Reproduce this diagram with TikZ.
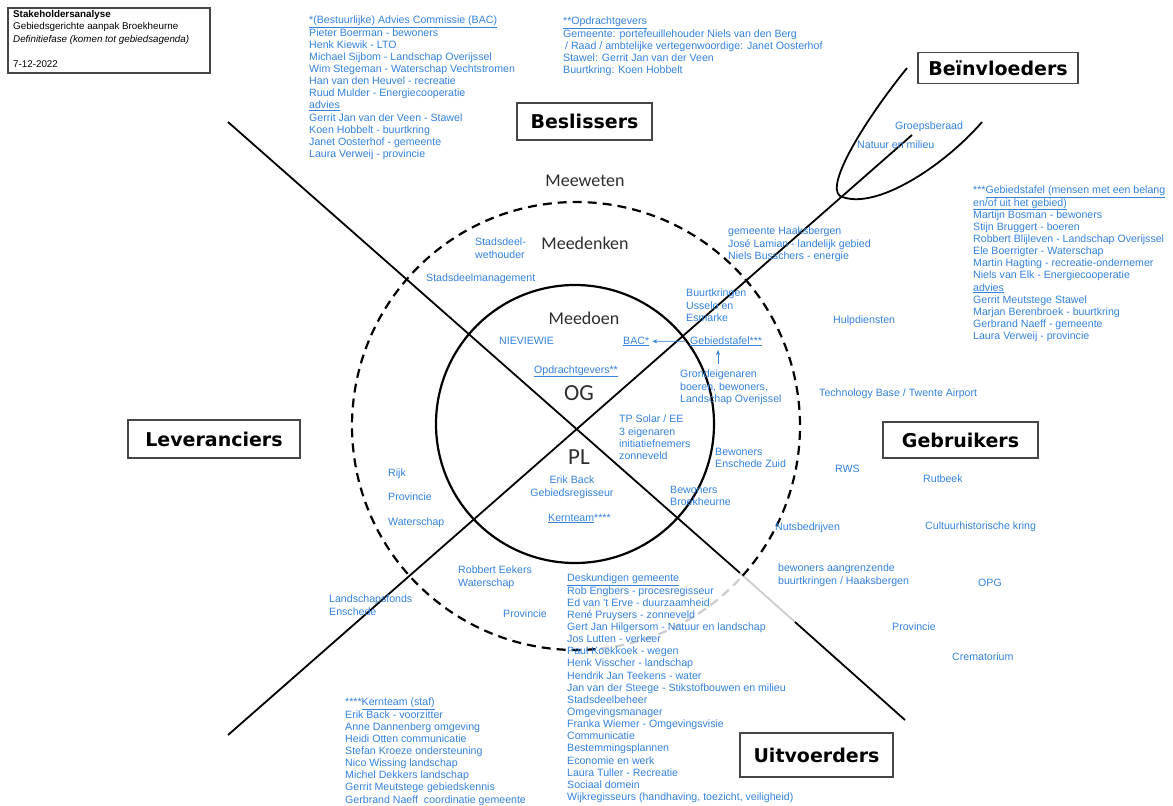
\documentclass[tikz,border=0pt]{standalone}
\usepackage{fontspec}
\setmainfont{Liberation Sans}
\newfontfamily\calib{Carlito}
\newfontfamily\boxfont{DejaVu Sans}
\usetikzlibrary{arrows.meta}
\definecolor{lblue}{RGB}{52,130,220}
\definecolor{hdrgrey}{RGB}{45,45,45}
\definecolor{boxgrey}{RGB}{70,70,70}
\definecolor{fadegrey}{RGB}{205,205,205}
\begin{document}
\begin{tikzpicture}[x=1pt,y=1pt,
  bl/.style={text=lblue, font=\fontsize{10.6}{12.15}\selectfont, inner sep=0pt, align=left},
  hdr/.style={text=hdrgrey, font=\calib\fontsize{18}{20}\selectfont, inner sep=0pt},
  bigl/.style={text=hdrgrey, font=\calib\fontsize{23}{26}\selectfont, inner sep=0pt},
  catbox/.style={draw=boxgrey, line width=1.5pt, font=\boxfont\bfseries\fontsize{19}{22}\selectfont, inner sep=0pt, text=black},
  axisline/.style={line width=1.8pt, black},
  ring/.style={line width=2.2pt, black},
  dring/.style={line width=2.2pt, dash pattern=on 9pt off 6pt},
  arr/.style={-{Stealth[length=5pt,width=4pt]}, lblue, line width=0.8pt}
]
\fill[white] (0,0) rectangle (1173,-806);
\useasboundingbox (0,0) rectangle (1173,-806);

% axes
\coordinate (a1) at (228,-122);
\coordinate (a2) at (740,-573);
\coordinate (a3) at (795,-622);
\coordinate (a4) at (905,-720);
\draw[axisline] (a1) -- (a2);
\draw[axisline, fadegrey] (a2) -- (a3);
\draw[axisline] (a3) -- (a4);
\coordinate (b1) at (228,-735);
\coordinate (b2) at (912,-135);
\draw[axisline] (b1) -- (b2);

% circles
\draw[ring] (575,-424) circle[radius=139pt];
\draw[dring, black] (576,-426) ++(-41.9:224pt) arc[start angle=-41.9, end angle=276.2, radius=224pt];
\draw[dring, fadegrey] (576,-426) ++(-83.8:224pt) arc[start angle=-83.8, end angle=-41.9, radius=224pt];

% influence curve
\draw[line width=1.8pt] (907,-68) .. controls (865,-120) and (825,-185) .. (840,-196)
   .. controls (875,-212) and (945,-165) .. (982,-122);

% category boxes
\node[catbox, minimum width=135pt, minimum height=37pt] (besl) at (584.5,-121.5) {Beslissers};
\node[catbox, minimum width=160pt, minimum height=31pt] (bein) at (998,-68) {Beïnvloeders};
\node[catbox, minimum width=172pt, minimum height=38pt] (lev) at (214,-439) {Leveranciers};
\node[catbox, minimum width=155pt, minimum height=36pt] (gebr) at (960.5,-440) {Gebruikers};
\node[catbox, minimum width=153pt, minimum height=44pt] (uitv) at (816.5,-755) {Uitvoerders};

% info box
\node[draw=boxgrey, line width=1.3pt, minimum width=202pt, minimum height=65pt, inner sep=0pt] (info) at (109,-40.5) {};
\node[anchor=north west, inner sep=0pt, align=left, font=\fontsize{9.8}{12.5}\selectfont] (infotxt) at (13,-10)
  {\textbf{Stakeholdersanalyse}\\Gebiedsgerichte aanpak Broekheurne\\\textit{Definitiefase (komen tot gebiedsagenda)}\\[12.5pt]7-12-2022};

% ring headers
\node[hdr] (meew) at (585,-181) {Meeweten};
\node[hdr] (meed) at (585,-243) {Meedenken};
\node[hdr] (meedo) at (584,-318) {Meedoen};
\node[bigl] (og) at (579,-393) {OG};
\node[bigl] (pl) at (579,-457) {PL};

% lists
\node[bl, anchor=north west] (bac) at (309,-16) {\underline{*(Bestuurlijke) Advies Commissie (BAC)}\\Pieter Boerman - bewoners\\Henk Kiewik - LTO\\Michael Sijbom - Landschap Overijssel\\Wim Stegeman - Waterschap Vechtstromen\\Han van den Heuvel - recreatie\\Ruud Mulder - Energiecooperatie\\\underline{advies}\\Gerrit Jan van der Veen - Stawel\\Koen Hobbelt - buurtkring\\Janet Oosterhof - gemeente\\Laura Verweij - provincie};

\node[bl, anchor=north west] (opdr) at (563,-17) {\underline{**Opdrachtgevers}\\Gemeente: portefeuillehouder Niels van den Berg\\\hspace*{2pt}/ Raad / ambtelijke vertegenwoordige: Janet Oosterhof\\Stawel: Gerrit Jan van der Veen\\Buurtkring: Koen Hobbelt};

\node[bl, anchor=north west] (gtl) at (973,-186) {***\underline{Gebiedstafel (mensen met een belang}\\\underline{en/of uit het gebied)}\\Martijn Bosman - bewoners\\Stijn Bruggert - boeren\\Robbert Blijleven - Landschap Overijssel\\Ele Boerrigter - Waterschap\\Martin Hagting - recreatie-ondernemer\\Niels van Elk - Energiecooperatie\\\underline{advies}\\Gerrit Meutstege Stawel\\Marjan Berenbroek - buurtkring\\Gerbrand Naeff - gemeente\\Laura Verweij - provincie};

\node[bl, anchor=north west] (desk) at (567,-574) {\underline{Deskundigen gemeente}\\Rob Engbers - procesregisseur\\Ed van 't Erve - duurzaamheid\\René Pruysers - zonneveld\\Gert Jan Hilgersom - Natuur en landschap\\Jos Lutten - verkeer\\Paul Koekkoek - wegen\\Henk Visscher - landschap\\Hendrik Jan Teekens - water\\Jan van der Steege - Stikstofbouwen en milieu\\Stadsdeelbeheer\\Omgevingsmanager\\Franka Wiemer - Omgevingsvisie\\Communicatie\\Bestemmingsplannen\\Economie en werk\\Laura Tuller - Recreatie\\Sociaal domein\\Wijkregisseurs (handhaving, toezicht, veiligheid)};

\node[bl, anchor=north west] (kern) at (345,-698) {****\underline{Kernteam (staf)}\\Erik Back - voorzitter\\Anne Dannenberg omgeving\\Heidi Otten communicatie\\Stefan Kroeze ondersteuning\\Nico Wissing landschap\\Michel Dekkers landschap\\Gerrit Meutstege gebiedskennis\\Gerbrand Naeff\ \ coordinatie gemeente};

% scattered labels
\node[bl, anchor=north west] (sdw) at (475,-238) {Stadsdeel-\\wethouder};
\node[bl, anchor=base west] (sdm) at (426,-281) {Stadsdeelmanagement};
\node[bl, anchor=base west] (niev) at (499,-344) {NIEVIEWIE};
\node[bl, anchor=base west] (bacs) at (623,-344) {\underline{BAC*}};
\node[bl, anchor=base west] (gebt) at (690,-344) {\underline{Gebiedstafel***}};
\node[bl, anchor=base west] (opds) at (534,-373) {\underline{Opdrachtgevers**}};
\node[bl, anchor=north west] (grond) at (680,-370) {Grondeigenaren\\boeren, bewoners,\\Landschap Overijssel};
\node[bl, anchor=north west] (buurt) at (686,-289) {Buurtkringen\\Usselo en\\Esmarke};
\node[bl, anchor=north west] (haak) at (728,-227) {gemeente Haaksbergen\\José Lamian - landelijk gebied\\Niels Busschers - energie};
\node[bl, anchor=base west] (hulp) at (833,-323) {Hulpdiensten};
\node[bl, anchor=base west] (tech) at (819,-396) {Technology Base / Twente Airport};
\node[bl, anchor=north west] (tps) at (619,-415) {TP Solar / EE\\3 eigenaren\\initiatiefnemers\\zonneveld};
\node[bl, anchor=north, align=center] (erik) at (572,-476) {Erik Back\\Gebiedsregisseur};
\node[bl, anchor=base west] (kts) at (548,-521) {\underline{Kernteam}****};
\node[bl, anchor=north west] (bez) at (715,-448) {Bewoners\\Enschede Zuid};
\node[bl, anchor=north west] (bbr) at (670,-486) {Bewoners\\Broekheurne};
\node[bl, anchor=base west] (rws) at (835,-472) {RWS};
\node[bl, anchor=base west] (rutb) at (923,-482) {Rutbeek};
\node[bl, anchor=base west] (nuts) at (775,-530) {Nutsbedrijven};
\node[bl, anchor=base west] (cult) at (925,-529) {Cultuurhistorische kring};
\node[bl, anchor=north west] (bwa) at (778,-564) {bewoners aangrenzende\\buurtkringen / Haaksbergen};
\node[bl, anchor=base west] (opg) at (978,-586) {OPG};
\node[bl, anchor=base west] (provr) at (892,-630) {Provincie};
\node[bl, anchor=base west] (crem) at (952,-660) {Crematorium};
\node[bl, anchor=base west] (rijk) at (388,-476) {Rijk};
\node[bl, anchor=base west] (provl) at (388,-500) {Provincie};
\node[bl, anchor=base west] (wsl) at (388,-525) {Waterschap};
\node[bl, anchor=north west] (eek) at (458,-566) {Robbert Eekers\\Waterschap};
\node[bl, anchor=north west] (lsf) at (329,-595) {Landschapsfonds\\Enschede};
\node[bl, anchor=base west] (provb) at (503,-617) {Provincie};
\node[bl, anchor=base west] (grp) at (895,-129) {Groepsberaad};
\node[bl, anchor=base west] (nem) at (857,-148) {Natuur en milieu};

% arrows
\draw[arr] ([xshift=-5pt]gebt.west) -- ([xshift=3pt]bacs.east);
\coordinate (upA) at (718,-364);
\coordinate (upB) at (718,-350);
\draw[arr] (upA) -- (upB);
\end{tikzpicture}
\end{document}
